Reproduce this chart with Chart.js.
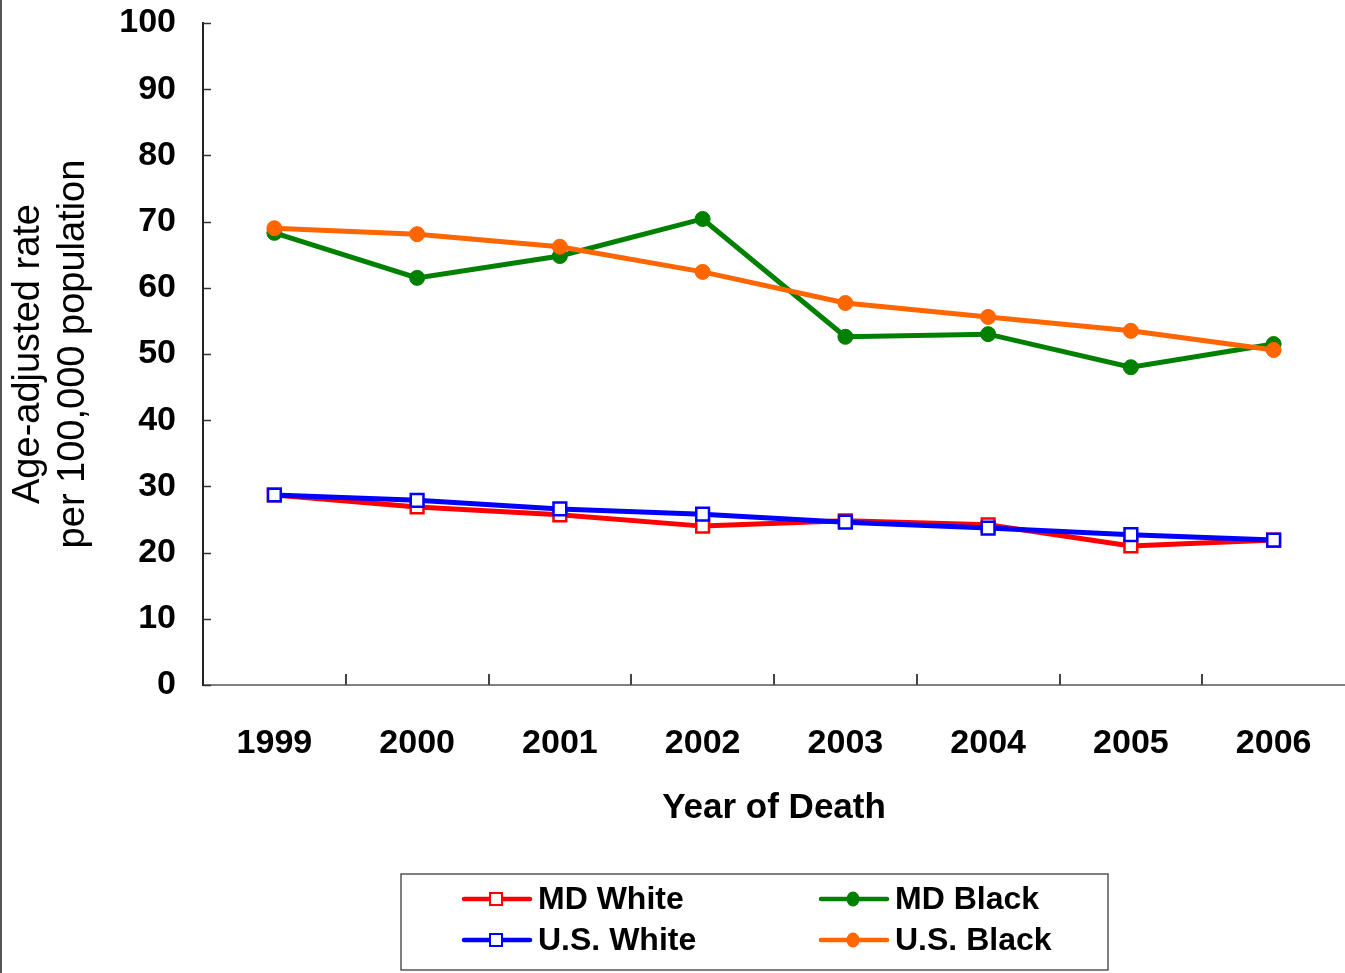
<!DOCTYPE html>
<html>
<head>
<meta charset="utf-8">
<script src="https://cdn.jsdelivr.net/npm/chart.js@4.4.1/dist/chart.umd.min.js"></script>
<style>
  html, body { margin: 0; padding: 0; background: #ffffff; }
  #wrap { width: 1345px; height: 973px; position: relative; }
</style>
</head>
<body>
<div id="wrap"><canvas id="c" width="1345" height="973"></canvas></div>
<script>
// ---- Data ----
const years = ['1999', '2000', '2001', '2002', '2003', '2004', '2005', '2006'];
const mdWhite = [28.7, 26.9, 25.7, 24.0, 24.8, 24.2, 21.0, 21.9];
const usWhite = [28.7, 27.9, 26.6, 25.8, 24.6, 23.7, 22.7, 21.9];
const mdBlack = [68.3, 61.5, 64.8, 70.4, 52.6, 53.0, 48.0, 51.5];
const usBlack = [69.0, 68.1, 66.2, 62.4, 57.7, 55.6, 53.5, 50.6];
const yTicks = [0, 10, 20, 30, 40, 50, 60, 70, 80, 90, 100];
const seriesNames = ['MD White', 'MD Black', 'U.S. White', 'U.S. Black'];
const xTitle = 'Year of Death';
const yTitle = ['Age-adjusted rate', 'per 100,000 population'];

const FONT = "'Liberation Sans', Arial, Helvetica, sans-serif";

// Inward tick marks, frame line and the boxed two-column legend
const decor = {
  id: 'decor',
  beforeDraw(chart) {
    const ctx = chart.ctx;
    ctx.save();
    ctx.fillStyle = '#ffffff';
    ctx.fillRect(0, 0, chart.width, chart.height);
    ctx.strokeStyle = '#555555';
    ctx.lineWidth = 2;
    ctx.beginPath();
    ctx.moveTo(1, 0);
    ctx.lineTo(1, chart.height);
    ctx.stroke();
    ctx.restore();
  },
  afterDraw(chart) {
    const ctx = chart.ctx;
    const xs = chart.scales.x, ys = chart.scales.y;
    const area = chart.chartArea;
    ctx.save();
    // y ticks (inward)
    ctx.strokeStyle = '#333333';
    ctx.lineWidth = 1.5;
    ys.ticks.forEach((t, i) => {
      const py = Math.round(ys.getPixelForTick(i)) + 0.5;
      ctx.beginPath();
      ctx.moveTo(area.left, py);
      ctx.lineTo(area.left + 8, py);
      ctx.stroke();
    });
    // x ticks (between categories, inward)
    ctx.strokeStyle = '#444444';
    ctx.lineWidth = 2;
    for (let i = 1; i < years.length; i++) {
      const px = Math.round(xs.getPixelForValue(i - 0.5));
      ctx.beginPath();
      ctx.moveTo(px, area.bottom);
      ctx.lineTo(px, area.bottom - 11);
      ctx.stroke();
    }
    // legend box
    const bx = 401, by = 874, bw = 707, bh = 96;
    ctx.strokeStyle = '#555555';
    ctx.lineWidth = 1.5;
    ctx.strokeRect(bx, by, bw, bh);
    const order = [0, 1, 2, 3];
    const colX = [464, 821];
    const rowY = [899, 940];
    ctx.font = "bold 32px " + FONT;
    ctx.textBaseline = 'middle';
    ctx.textAlign = 'left';
    order.forEach((di, k) => {
      const ds = chart.data.datasets[di];
      const cx = colX[k % 2];
      const cy = rowY[Math.floor(k / 2)];
      ctx.strokeStyle = ds.borderColor;
      ctx.lineWidth = 4.5;
      ctx.lineCap = 'round';
      ctx.beginPath();
      ctx.moveTo(cx, cy);
      ctx.lineTo(cx + 66, cy);
      ctx.stroke();
      const mx = cx + 32;
      if (ds.pointStyle === 'rect') {
        ctx.fillStyle = '#ffffff';
        ctx.fillRect(mx - 6, cy - 6, 12, 12);
        ctx.lineWidth = 2;
        ctx.strokeStyle = ds.borderColor;
        ctx.strokeRect(mx - 6, cy - 6, 12, 12);
      } else {
        ctx.fillStyle = ds.borderColor;
        ctx.beginPath();
        ctx.ellipse(mx, cy, 6.5, 7.5, 0, 0, Math.PI * 2);
        ctx.fill();
      }
      ctx.fillStyle = '#000000';
      ctx.fillText(ds.label, cx + 74, cy + 1);
    });
    ctx.restore();
  }
};

const mkSet = (label, data, color, style, order) => ({
  label, data, order,
  borderColor: color,
  backgroundColor: style === 'rect' ? '#ffffff' : color,
  pointBackgroundColor: style === 'rect' ? '#ffffff' : color,
  pointBorderColor: color,
  pointBorderWidth: style === 'rect' ? 2.5 : 1,
  pointStyle: style,
  pointRadius: style === 'rect' ? 9 : 7.5,
  borderWidth: 5,
  tension: 0,
  fill: false,
  clip: false
});

const zeroPad = (s) => { s.paddingTop = 0; s.paddingBottom = 0; s.paddingLeft = 0; s.paddingRight = 0; };

new Chart(document.getElementById('c'), {
  type: 'line',
  data: {
    labels: years,
    datasets: [
      mkSet(seriesNames[0], mdWhite, '#ff0000', 'rect', 3),
      mkSet(seriesNames[1], mdBlack, '#008000', 'circle', 1),
      mkSet(seriesNames[2], usWhite, '#0000ff', 'rect', 2),
      mkSet(seriesNames[3], usBlack, '#ff6600', 'circle', 0)
    ]
  },
  options: {
    responsive: false,
    animation: false,
    events: [],
    layout: { autoPadding: false, padding: { left: 0, right: -3, top: 23, bottom: 143 } },
    plugins: {
      legend: { display: false },
      tooltip: { enabled: false }
    },
    scales: {
      x: {
        type: 'category',
        offset: true,
        afterFit(s) { s.height = 145; zeroPad(s); },
        grid: { display: true, drawOnChartArea: false, drawTicks: false, offset: true, color: 'rgba(0,0,0,0)' },
        border: { display: true, color: '#808080', width: 2 },
        ticks: {
          color: '#000000',
          padding: 38,
          maxRotation: 0,
          autoSkip: false,
          font: { family: FONT, size: 34, weight: 'bold' }
        },
        title: {
          display: true,
          text: xTitle,
          color: '#000000',
          padding: { top: 0, bottom: 1 },
          font: { family: FONT, size: 35, weight: 'bold' }
        }
      },
      y: {
        min: 0,
        max: 100,
        afterFit(s) { s.width = 203; zeroPad(s); },
        afterBuildTicks(s) { s.ticks = yTicks.map(v => ({ value: v })); },
        grid: { display: true, drawOnChartArea: false, drawTicks: false, color: 'rgba(0,0,0,0)' },
        border: { display: true, color: '#222222', width: 2 },
        ticks: {
          color: '#000000',
          padding: 27,
          font: { family: FONT, size: 34, weight: 'bold' }
        },
        title: {
          display: true,
          text: yTitle,
          color: '#000000',
          padding: { top: 6, bottom: 0 },
          font: { family: FONT, size: 38, weight: 'normal', lineHeight: 1.18 }
        }
      }
    }
  },
  plugins: [decor]
});
</script>
</body>
</html>
